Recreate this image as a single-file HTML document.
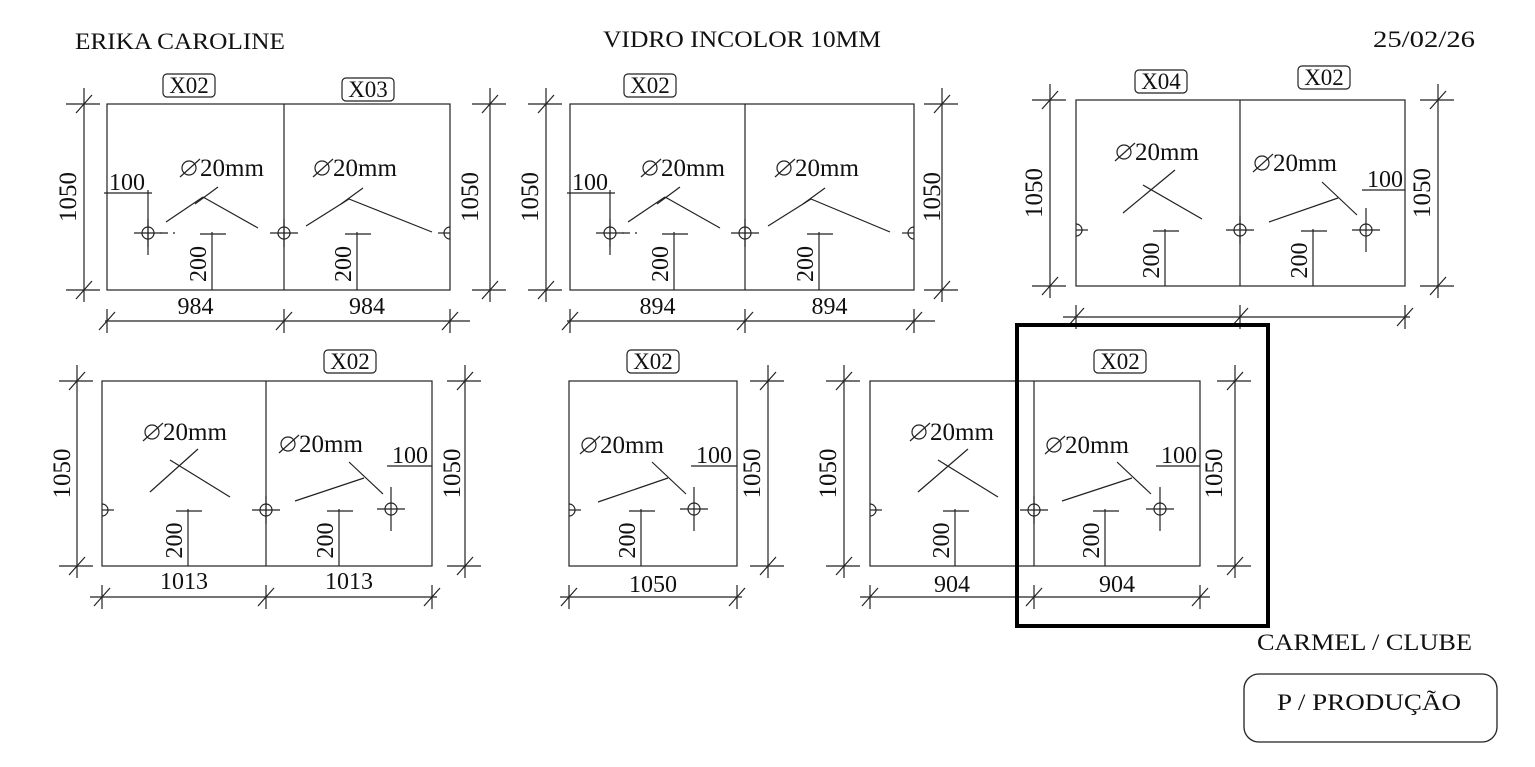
<!DOCTYPE html>
<html><head><meta charset="utf-8"><style>
html,body{margin:0;padding:0;background:#fff;width:1535px;height:767px;overflow:hidden}
svg{display:block}
text{font-family:"Liberation Serif",serif;fill:#111}
</style></head><body>
<svg id="s" width="1535" height="767" xmlns="http://www.w3.org/2000/svg">
<g stroke="#222" stroke-width="1.2" fill="none" id="g"></g>
<text x="75" y="49" font-size="23" textLength="210" lengthAdjust="spacingAndGlyphs">ERIKA CAROLINE</text>
<text x="603" y="47" font-size="23" textLength="278" lengthAdjust="spacingAndGlyphs">VIDRO INCOLOR 10MM</text>
<text x="1373" y="47" font-size="23" textLength="102" lengthAdjust="spacingAndGlyphs">25/02/26</text>
<text x="1257" y="650" font-size="23" textLength="215" lengthAdjust="spacingAndGlyphs">CARMEL / CLUBE</text>
<rect x="1244" y="674" width="253" height="68" rx="15" fill="none" stroke="#222" stroke-width="1.3"/>
<text x="1277" y="710" font-size="23" textLength="184" lengthAdjust="spacingAndGlyphs">P / PRODUÇÃO</text>
<rect x="1017" y="325" width="251" height="301" fill="none" stroke="#000" stroke-width="4"/>
</svg>
<script>
var g=document.getElementById('g'),S=document.getElementById('s');
function L(a,b,c,d,w){var e=document.createElementNS('http://www.w3.org/2000/svg','line');e.setAttribute('x1',a);e.setAttribute('y1',b);e.setAttribute('x2',c);e.setAttribute('y2',d);if(w)e.setAttribute('stroke-dasharray',w);g.appendChild(e);}
function P(d){var e=document.createElementNS('http://www.w3.org/2000/svg','path');e.setAttribute('d',d);g.appendChild(e);}
function C(x,y,r){var e=document.createElementNS('http://www.w3.org/2000/svg','circle');e.setAttribute('cx',x);e.setAttribute('cy',y);e.setAttribute('r',r);g.appendChild(e);}
function T(x,y,t,sz,rot,anc){var e=document.createElementNS('http://www.w3.org/2000/svg','text');e.setAttribute('x',x);e.setAttribute('y',y);e.setAttribute('font-size',sz||22);if(anc)e.setAttribute('text-anchor',anc);if(rot)e.setAttribute('transform','rotate(-90 '+x+' '+y+')');e.textContent=t;S.appendChild(e);}
function R(x,y,w,h){var e=document.createElementNS('http://www.w3.org/2000/svg','rect');e.setAttribute('x',x);e.setAttribute('y',y);e.setAttribute('width',w);e.setAttribute('height',h);g.appendChild(e);}
function slash(x,y){L(x-8,y+9,x+8,y-9);}
function dimV(x,y1,y2,lab,lx){L(x,y1-16,x,y2+12);L(x-18,y1,x+16,y1);L(x-18,y2,x+16,y2);slash(x,y1);slash(x,y2);T(lx,(y1+y2)/2,lab,25,1,'middle');}
function dimH(y,xs,x0,x1,labs,ly){L(x0,y,x1,y);xs.forEach(function(x){L(x,y-12,x,y+12);slash(x,y);});for(var i=0;i<labs.length;i++)T((xs[i]+xs[i+1])/2,ly,labs[i],24,0,'middle');}
function hole(x,y){C(x,y,6);L(x-14,y,x+14,y);L(x,y-14,x,y+14);}
function holeC(x,y){C(x,y,6);L(x-14,y,x+14,y);L(x,y-22,x,y+22);}
function halfL(x,y){P('M'+x+' '+(y-6)+' A6 6 0 0 1 '+x+' '+(y+6));L(x,y,x+12,y);}
function halfR(x,y){P('M'+x+' '+(y-6)+' A6 6 0 0 0 '+x+' '+(y+6));L(x-12,y,x,y);}
function dia(x,y){C(x+9,y-8,7);L(x,y+1,x+20,y-17);T(x+20,y,'20mm',25);}
function tag(cx,y,t){var w=52;var e=document.createElementNS('http://www.w3.org/2000/svg','rect');e.setAttribute('x',cx-w/2);e.setAttribute('y',y-19);e.setAttribute('width',w);e.setAttribute('height',23);e.setAttribute('rx',4);g.appendChild(e);T(cx,y,t,23,0,'middle');}
function d200(x,y,yb){L(x,y-2,x,yb);L(x-12,y,x+14,y);T(x-6,(y+yb)/2+2,'200',24,1,'middle');}
function d100(x,y,x2){T(x+1,y-3,'100',24);L(x-4,y,x2,y);}
function V(a,b,c,d,e,f){L(a,b,c,d);L(c,d,e,f);}

// Panel 1
R(107,104,343,186);L(284,104,284,290);
dimV(84,104,290,'1050',76);dimV(490,104,290,'1050',478);
dimH(321,[107,284,450],105,470,['984','984'],314);
tag(189,93,'X02');tag(368,97,'X03');
hole(148,233);L(148,190,148,255);L(160,233,175,233,'8 5');hole(284,233);halfR(450,233);
d100(108,193,152);
dia(180,176);dia(313,176);
V(166,222,203,197,258,228);L(195,204,218,187);
V(306,226,349,199,432,232);L(341,204,363,188);
d200(212,234,290);d200(357,234,290);
// Panel 2
R(570,104,344,186);L(745,104,745,290);
dimV(546,104,290,'1050',538);dimV(942,104,290,'1050',940);
dimH(321,[570,745,914],567,935,['894','894'],314);
tag(650,93,'X02');
hole(610,233);L(610,190,610,255);L(622,233,637,233,'8 5');hole(745,233);halfR(914,233);
d100(571,193,615);
dia(641,176);dia(775,176);
V(628,222,665,197,720,228);L(657,204,680,187);
V(768,226,811,199,890,232);L(803,204,825,188);
d200(674,234,290);d200(819,234,290);
// Panel 3
R(1076,100,329,186);L(1240,100,1240,286);
dimV(1050,100,286,'1050',1042);dimV(1438,100,286,'1050',1430);
dimH(317,[1076,1240,1405],1063,1410,[],0);
tag(1161,89,'X04');tag(1324,85,'X02');
halfL(1076,230);hole(1240,230);holeC(1366,230);
d100(1366,190,1405);
dia(1115,160);dia(1253,171);
L(1123,213,1175,170);L(1143,185,1202,219);
L(1269,222,1338,198);L(1322,182,1357,215);
d200(1165,231,286);d200(1313,231,286);
// Panel 4
R(102,381,330,185);L(266,381,266,566);
dimV(77,381,566,'1050',70);dimV(465,381,566,'1050',460);
dimH(597,[102,266,432],90,437,['1013','1013'],589);
tag(350,369,'X02');
halfL(102,510);hole(266,510);holeC(391,509);
d100(391,466,432);
dia(143,440);dia(279,452);
L(150,492,198,449);L(170,460,230,497);
L(295,501,364,478);L(349,462,383,494);
d200(188,511,566);d200(339,511,566);
// Panel 5
R(569,381,168,185);
dimV(768,381,566,'1050',760);
dimH(597,[569,737],560,742,['1050'],592);
tag(653,369,'X02');
halfL(569,510);holeC(694,509);
d100(695,466,737);
dia(580,453);
L(598,502,668,478);L(652,462,686,494);
d200(641,511,566);
// Panel 6
R(870,381,330,185);L(1034,381,1034,566);
dimV(844,381,566,'1050',836);dimV(1235,381,566,'1050',1222);
dimH(597,[870,1034,1200],860,1210,['904','904'],592);
tag(1120,369,'X02');
halfL(870,510);hole(1034,510);holeC(1160,509);
d100(1160,466,1200);
dia(910,440);dia(1045,453);
L(918,492,968,449);L(938,460,998,497);
L(1062,501,1132,478);L(1117,462,1151,494);
d200(955,511,566);d200(1105,511,566);
</script>
</body></html>
